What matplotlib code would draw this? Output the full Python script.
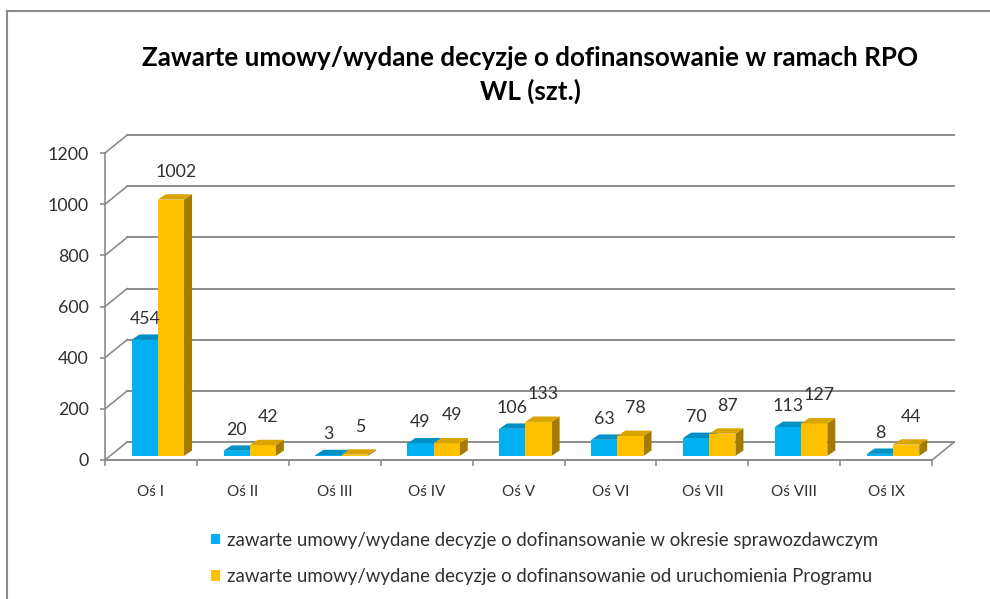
import matplotlib.pyplot as plt
from matplotlib.patches import Polygon, Patch
from matplotlib.lines import Line2D

plt.rcParams['font.family'] = ['Lato', 'DejaVu Sans']

categories = ["Oś I", "Oś II", "Oś III", "Oś IV", "Oś V", "Oś VI", "Oś VII", "Oś VIII", "Oś IX"]
okres = [454, 20, 3, 49, 106, 63, 70, 113, 8]
narastajaco = [1002, 42, 5, 49, 133, 78, 87, 127, 44]
series_names = [
    "zawarte umowy/wydane decyzje o dofinansowanie w okresie sprawozdawczym",
    "zawarte umowy/wydane decyzje o dofinansowanie od uruchomienia Programu",
]
y_ticks = [0, 200, 400, 600, 800, 1000, 1200]

# colours: front, top, side
blue = ("#00B0F0", "#0090C6", "#007FB0")
gold = ("#FFC000", "#D9A300", "#A37B00")
grid_c = "#8C8C8C"
text_c = "#303030"

# fake 3d geometry (data units)
wall_dx, wall_dy = 0.24, 70      # back wall offset
bar_dx, bar_dy = 0.087, 21       # bar depth
base = 16                        # bars stand a bit behind the front edge
bar_w = 0.285
bar_x0 = 0.29

W, H = 990, 599
fig = plt.figure(figsize=(W / 100, H / 100), dpi=100)
ax = fig.add_axes([105 / W, 1 - 460 / H, 9.24 * 91.9 / W, 1270 * 0.2558 / H])
ax.set_xlim(0, 9 + wall_dx)
ax.set_ylim(0, 1200 + wall_dy)

for s in ["top", "right", "bottom"]:
    ax.spines[s].set_visible(False)
ax.spines["left"].set_color(grid_c)
ax.spines["left"].set_linewidth(1.2)
ax.spines["left"].set_bounds(0, 1200)

ax.set_yticks(y_ticks)
ax.set_yticklabels([str(v) for v in y_ticks])
ax.tick_params(axis="y", colors=grid_c, labelcolor=text_c, labelsize=12.8,
               length=3.6, width=1.2, pad=8)

n = len(categories)
ax.set_xticks(range(n + 1))
ax.set_xticklabels([])
ax.set_xticks([i + 0.5 for i in range(n)], minor=True)
ax.set_xticklabels(categories, minor=True, fontsize=11, color=text_c)
ax.tick_params(axis="x", which="major", colors=grid_c, length=4.3, width=1.2)
ax.tick_params(axis="x", which="minor", length=0, pad=18)

# back wall grid + side wall connectors
for v in y_ticks:
    ax.plot([wall_dx, n + wall_dx], [v + wall_dy, v + wall_dy], color=grid_c,
            lw=1.4, clip_on=False, zorder=1)
    ax.plot([0, wall_dx], [v, v + wall_dy], color=grid_c, lw=1.2, clip_on=False, zorder=1)
# floor
ax.plot([0, n], [0, 0], color=grid_c, lw=1.4, clip_on=False, zorder=1)
ax.plot([n, n + wall_dx], [0, wall_dy], color=grid_c, lw=1.2, clip_on=False, zorder=1)


def draw_bars(vals, offset, cols, z):
    xs = [i + offset for i in range(n)]
    ax.bar(xs, vals, width=bar_w, bottom=base, align="edge", color=cols[0],
           linewidth=0, zorder=z + 0.5)
    for x0, v in zip(xs, vals):
        top = base + v
        ax.add_patch(Polygon([(x0, top), (x0 + bar_w, top),
                              (x0 + bar_w + bar_dx, top + bar_dy), (x0 + bar_dx, top + bar_dy)],
                             closed=True, facecolor=cols[1], lw=0, zorder=z + 0.6))
        ax.add_patch(Polygon([(x0 + bar_w, base), (x0 + bar_w + bar_dx, base + bar_dy),
                              (x0 + bar_w + bar_dx, top + bar_dy), (x0 + bar_w, top)],
                             closed=True, facecolor=cols[2], lw=0, zorder=z))
    return xs


xb = draw_bars(okres, bar_x0, blue, 3)
xo = draw_bars(narastajaco, bar_x0 + bar_w, gold, 4)

for x0, v in zip(xb, okres):
    ax.annotate(str(v), (x0 + bar_w / 2, base + v), xytext=(0, 21),
                textcoords="offset pixels", ha="center", va="center",
                fontsize=12.8, color=text_c, zorder=10)
for x0, v in zip(xo, narastajaco):
    ax.annotate(str(v), (x0 + bar_w / 2, base + v), xytext=(5, 28),
                textcoords="offset pixels", ha="center", va="center",
                fontsize=12.8, color=text_c, zorder=10)

fig.text(530 / W, 1 - 75 / H,
         "Zawarte umowy/wydane decyzje o dofinansowanie w ramach RPO\nWL (szt.)",
         ha="center", va="center", fontsize=18.7, fontweight="bold",
         linespacing=1.4, color="black")

handles = [Patch(facecolor=blue[0]), Patch(facecolor=gold[0])]
fig.legend(handles, series_names, loc="upper left", bbox_to_anchor=(194 / W, 1 - 515 / H),
           frameon=False, fontsize=13.4, handlelength=0.5, handleheight=0.5,
           handletextpad=0.35, labelspacing=1.05, labelcolor=text_c)

# chart area border (only left and top visible)
fig.add_artist(Line2D([7 / W, 7 / W], [0, 1 - 11 / H], color="#8C8C8C", lw=1.5))
fig.add_artist(Line2D([7 / W, 1], [1 - 11 / H, 1 - 11 / H], color="#8C8C8C", lw=1.5))

fig.savefig("out.png", dpi=100)
